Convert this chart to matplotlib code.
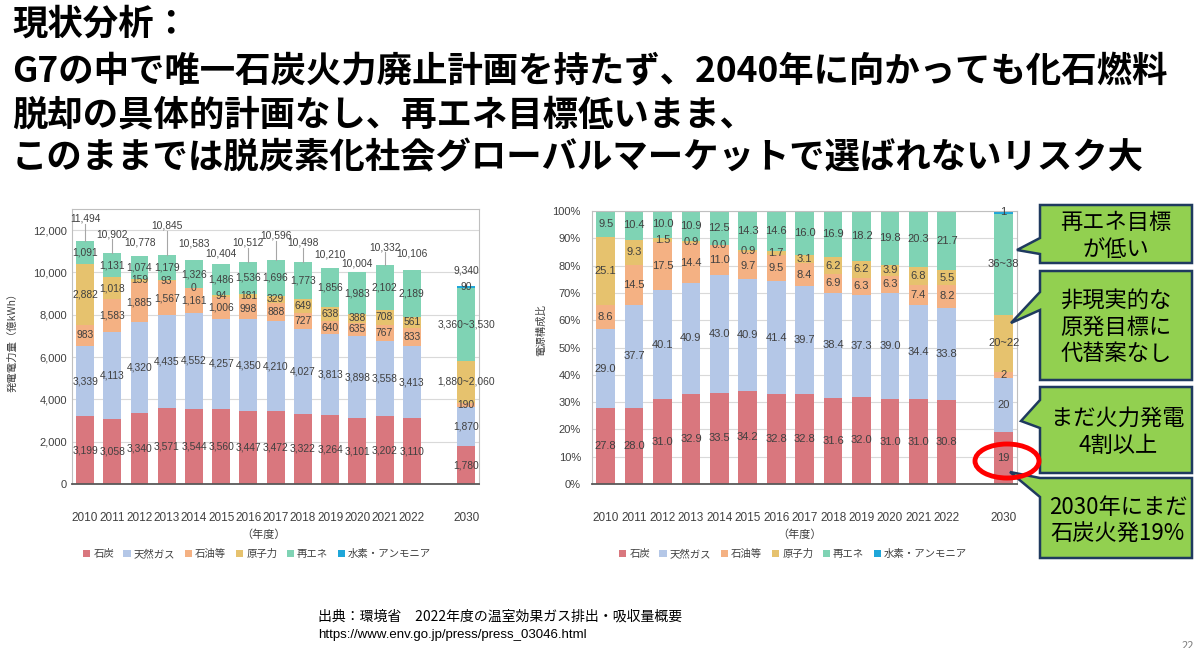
import matplotlib
matplotlib.use("Agg")
import matplotlib.pyplot as plt
from matplotlib.patches import Polygon, Ellipse
import numpy as np

plt.rcParams['font.family'] = ['Noto Sans CJK JP', 'DejaVu Sans']
num_font = ['Liberation Sans', 'DejaVu Sans']

W, H = 1200, 648

years = ["2010", "2011", "2012", "2013", "2014", "2015", "2016",
         "2017", "2018", "2019", "2020", "2021", "2022", "2030"]
xpos = [0, 1, 2, 3, 4, 5, 6, 7, 8, 9, 10, 11, 12, 14]

# 発電電力量（億kWh）
coal = [3199, 3058, 3340, 3571, 3544, 3560, 3447, 3472, 3322, 3264, 3101, 3202, 3110, 1780]
gas = [3339, 4113, 4320, 4435, 4552, 4257, 4350, 4210, 4027, 3813, 3898, 3558, 3413, 1870]
oil = [983, 1583, 1885, 1567, 1161, 1006, 998, 888, 727, 640, 635, 767, 833, 190]
nuclear = [2882, 1018, 159, 93, 0, 94, 181, 329, 649, 638, 388, 708, 561, 1970]
renew = [1091, 1131, 1074, 1179, 1326, 1486, 1536, 1696, 1773, 1856, 1983, 2102, 2189, 3440]
hydrogen = [0, 0, 0, 0, 0, 0, 0, 0, 0, 0, 0, 0, 0, 90]
totals = [11494, 10902, 10778, 10845, 10583, 10404, 10512, 10596, 10498, 10210,
          10004, 10332, 10106, 9340]
nuclear_2030_label = "1,880~2,060"
renew_2030_label = "3,360~3,530"

# 電源構成比（%）
coal_pct = [27.8, 28.0, 31.0, 32.9, 33.5, 34.2, 32.8, 32.8, 31.6, 32.0, 31.0, 31.0, 30.8, 19]
gas_pct = [29.0, 37.7, 40.1, 40.9, 43.0, 40.9, 41.4, 39.7, 38.4, 37.3, 39.0, 34.4, 33.8, 20]
oil_pct = [8.6, 14.5, 17.5, 14.4, 11.0, 9.7, 9.5, 8.4, 6.9, 6.3, 6.3, 7.4, 8.2, 2]
nuclear_pct = [25.1, 9.3, 1.5, 0.9, 0.0, 0.9, 1.7, 3.1, 6.2, 6.2, 3.9, 6.8, 5.5, 21]
renew_pct = [9.5, 10.4, 10.0, 10.9, 12.5, 14.3, 14.6, 16.0, 16.9, 18.2, 19.8, 20.3, 21.7, 37]
hydrogen_pct = [0, 0, 0, 0, 0, 0, 0, 0, 0, 0, 0, 0, 0, 1]
nuclear_pct_2030_label = "20~22"
renew_pct_2030_label = "36~38"

names = ["石炭", "天然ガス", "石油等", "原子力", "再エネ", "水素・アンモニア"]
colors = ["#D9777E", "#B4C7E7", "#F4B183", "#E6C26E", "#7FD3B4", "#1FA6D9"]

title_lines = ["現状分析：",
               "G7の中で唯一石炭火力廃止計画を持たず、2040年に向かっても化石燃料",
               "脱却の具体的計画なし、再エネ目標低いまま、",
               "このままでは脱炭素化社会グローバルマーケットで選ばれないリスク大"]


def fx(x):
    return x / W


def fy(y):
    return 1 - y / H


fig = plt.figure(figsize=(12, 6.48), dpi=100)
fig.patch.set_facecolor("white")

for t, yc in zip(title_lines, [24, 71, 115, 158]):
    fig.text(fx(12), fy(yc), t, fontsize=25.5, fontweight="bold", va="center", ha="left")


def stack(ax, series, labels, fsize):
    bottom = np.zeros(len(xpos))
    for vals, labs, col, nm in zip(series, labels, colors, names):
        vals = np.array(vals, float)
        ax.bar(xpos, vals, bottom=bottom, width=0.66, color=col, zorder=2, label=nm)
        for x, b, v, t in zip(xpos, bottom, vals, labs):
            if t:
                ax.text(x, b + v / 2, t, ha="center", va="center", fontsize=fsize,
                        color="#404040", family=num_font, zorder=4, clip_on=False)
        bottom += vals
    return bottom


def style_axes(ax):
    for s in ["top", "right", "left"]:
        ax.spines[s].set_color("#BFBFBF")
        ax.spines[s].set_linewidth(0.8)
    ax.spines["bottom"].set_color("#595959")
    ax.spines["bottom"].set_linewidth(1.3)
    ax.spines["bottom"].set_zorder(5)
    ax.grid(axis="y", color="#D9D9D9", linewidth=0.8, zorder=0)
    ax.set_axisbelow(True)
    ax.tick_params(length=0)
    ax.set_xlim(-0.48, 14.47)
    ax.set_xticks(xpos)
    ax.set_xticklabels(years, fontsize=8.5, family=num_font, color="#404040")
    ax.tick_params(axis="x", pad=20)
    for lab in ax.get_yticklabels():
        lab.set_family(num_font)
        lab.set_fontsize(8)
        lab.set_color("#404040")


# 左: 発電電力量
axl = fig.add_axes([fx(72), fy(484), fx(479) - fx(72), fy(209) - fy(484)])
lab_l = []
for i, vals in enumerate([coal, gas, oil, nuclear, renew, hydrogen]):
    labs = [f"{v:,}" for v in vals]
    if i == 5:
        labs = ["" for v in vals[:-1]] + [f"{vals[-1]:,}"]
    lab_l.append(labs)
lab_l[3][-1] = nuclear_2030_label
lab_l[4][-1] = renew_2030_label
stack(axl, [coal, gas, oil, nuclear, renew, hydrogen], lab_l, 7.4)
axl.set_ylim(0, 13000)
axl.set_yticks(range(0, 12001, 2000))
axl.set_yticklabels([f"{v:,}" for v in range(0, 12001, 2000)])
style_axes(axl)

# 合計ラベル（引出線つき）
tot_off = [22, 19, 14, 29, 17, 10, 19, 24, 19, 14, 9, 18, 17, 16]
px_per_unit = (484 - 209) / 13000
for x, t, o in zip(xpos, totals, tot_off):
    yl = t + o / px_per_unit
    axl.text(x, yl, f"{t:,}", ha="center", va="center", fontsize=7.4,
             color="#404040", family=num_font, clip_on=False)
    if o > 17:
        axl.plot([x, x], [t, yl - 5 / px_per_unit], color="#A6A6A6", lw=0.8, zorder=3,
                 clip_on=False)

# 右: 電源構成比
axr = fig.add_axes([fx(592), fy(484), fx(1017) - fx(592), fy(211) - fy(484)])
lab_r = []
for i, vals in enumerate([coal_pct, gas_pct, oil_pct, nuclear_pct, renew_pct, hydrogen_pct]):
    labs = [f"{v:.1f}" for v in vals[:-1]] + [f"{vals[-1]:g}"]
    if i == 5:
        labs = ["" for v in vals[:-1]] + [f"{vals[-1]:g}"]
    lab_r.append(labs)
lab_r[3][-1] = nuclear_pct_2030_label
lab_r[4][-1] = renew_pct_2030_label
stack(axr, [coal_pct, gas_pct, oil_pct, nuclear_pct, renew_pct, hydrogen_pct], lab_r, 8)
axr.set_ylim(0, 100)
axr.set_yticks(range(0, 101, 10))
axr.set_yticklabels([f"{v}%" for v in range(0, 101, 10)])
style_axes(axr)
axr.tick_params(axis="y", pad=8)

# 軸ラベル・凡例
fig.text(fx(12), fy(340), "発電電力量（億kWh）", rotation=90, fontsize=7.5,
         va="center", ha="center", color="#404040")
fig.text(fx(541), fy(330), "電源構成比", rotation=90, fontsize=7.5,
         va="center", ha="center", color="#404040")
fig.text(fx(264), fy(535), "（年度）", fontsize=8, va="center", ha="center", color="#404040")
fig.text(fx(800), fy(535), "（年度）", fontsize=8, va="center", ha="center", color="#404040")

for ax, cx in [(axl, 257), (axr, 793)]:
    h, l = ax.get_legend_handles_labels()
    lg = fig.legend(h, l, loc="center", bbox_to_anchor=(fx(cx), fy(554)), ncol=6,
                    frameon=False, fontsize=7.5, handlelength=0.7, handleheight=0.7,
                    handletextpad=0.3, columnspacing=0.9, borderaxespad=0)
    for t in lg.get_texts():
        t.set_color("#404040")

# 吹き出し
green = "#92D050"
edge = "#1F3A5F"
callouts = [
    ((1040, 205, 1192, 263), [(1040, 238), (1017, 250), (1040, 254)],
     "再エネ目標\nが低い", (1116, 236)),
    ((1040, 271, 1192, 380), [(1040, 292), (1011, 323), (1040, 310)],
     "非現実的な\n原発目標に\n代替案なし", (1116, 327)),
    ((1040, 387, 1192, 473), [(1040, 400), (1021, 421), (1040, 428)],
     "まだ火力発電\n4割以上", (1118, 432)),
    ((1040, 478, 1192, 558), [(1040, 478), (1010, 472), (1040, 497)],
     "2030年にまだ\n石炭火発19%", (1118, 521)),
]
for (x0, y0, x1, y1), ptr, text, (tx, ty) in callouts:
    pts = [(x0, y0), (x1, y0), (x1, y1), (x0, y1),
           ptr[2], ptr[1], ptr[0]]
    if ptr[0] == (x0, y0):
        pts = [(x0, y0), (x1, y0), (x1, y1), (x0, y1), ptr[2], ptr[1]]
    poly = Polygon([(fx(a), fy(b)) for a, b in pts], closed=True, transform=fig.transFigure,
                   facecolor=green, edgecolor=edge, linewidth=1.8, zorder=10)
    fig.add_artist(poly)
    fig.text(fx(tx), fy(ty), text, ha="center", va="center", fontsize=16,
             linespacing=1.2, zorder=11)

ell = Ellipse((fx(1007), fy(461)), 64 / W, 34 / H, transform=fig.transFigure,
              fill=False, edgecolor="#FF0000", linewidth=3.5, zorder=12)
fig.add_artist(ell)

# 出典
fig.text(fx(318), fy(616), "出典：環境省　2022年度の温室効果ガス排出・吸収量概要",
         fontsize=10, va="center", ha="left")
fig.text(fx(318), fy(635), "https://www.env.go.jp/press/press_03046.html",
         fontsize=9.5, va="center", ha="left", family=num_font)
fig.text(fx(1182), fy(646), "22", fontsize=8, va="center", ha="left", color="#7F7F7F")

fig.savefig("out.png", dpi=100, facecolor="white")
